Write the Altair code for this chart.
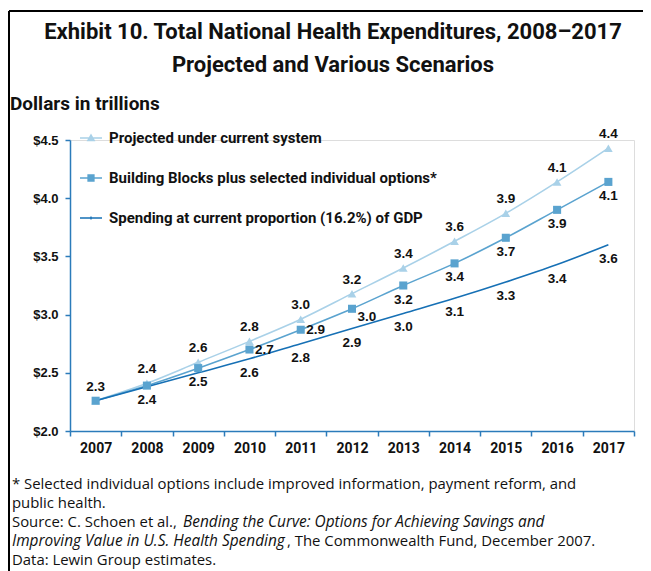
import altair as alt
import pandas as pd

YEARS = ["2007", "2008", "2009", "2010", "2011", "2012", "2013", "2014", "2015", "2016", "2017"]
SERIES = [
    "Projected under current system",
    "Building Blocks plus selected individual options*",
    "Spending at current proportion (16.2%) of GDP",
]
COLORS = ["#a9d1e8", "#5aa3cf", "#1670b5"]

PROJECTED = [2.26, 2.41, 2.59, 2.77, 2.96, 3.18, 3.40, 3.63, 3.87, 4.14, 4.43]
BUILDING = [2.26, 2.39, 2.54, 2.70, 2.87, 3.05, 3.25, 3.44, 3.66, 3.90, 4.14]
GDP = [2.26, 2.38, 2.50, 2.62, 2.75, 2.88, 3.01, 3.14, 3.28, 3.43, 3.60]

PROJ_LABELS = ["2.3", "2.4", "2.6", "2.8", "3.0", "3.2", "3.4", "3.6", "3.9", "4.1", "4.4"]
PROJ_POS = ["above"] * 11
BB_LABELS = ["", "2.4", "2.5", "2.7", "2.9", "3.0", "3.2", "3.4", "3.7", "3.9", "4.1"]
BB_POS = ["below", "below", "below", "right", "right", "belowright", "below", "below", "below", "below", "below"]
GDP_LABELS = ["", "", "", "2.6", "2.8", "2.9", "3.0", "3.1", "3.3", "3.4", "3.6"]
GDP_POS = ["below"] * 11

TITLE_LINES = ["Exhibit 10. Total National Health Expenditures, 2008\u20132017",
               "Projected and Various Scenarios"]
Y_TITLE = "Dollars in trillions"
NOTE_1 = "* Selected individual options include improved information, payment reform, and"
NOTE_2 = "public health."
NOTE_3A = "Source: C. Schoen et al., "
NOTE_3B = "Bending the Curve: Options for Achieving Savings and"
NOTE_4A = "Improving Value in U.S. Health Spending"
NOTE_4B = ", The Commonwealth Fund, December 2007."
NOTE_5 = "Data: Lewin Group estimates."

COND = "Roboto, Liberation Sans, sans-serif"
SANS = "Liberation Sans, Arial, sans-serif"
NOTE_FONT = "Open Sans, Liberation Sans, sans-serif"
AXIS_BLUE = "#2b7bba"

rows = []
for s, vals, labs, poss in [
    (SERIES[0], PROJECTED, PROJ_LABELS, PROJ_POS),
    (SERIES[1], BUILDING, BB_LABELS, BB_POS),
    (SERIES[2], GDP, GDP_LABELS, GDP_POS),
]:
    for y, v, l, p in zip(YEARS, vals, labs, poss):
        rows.append({"year": y, "series": s, "value": v, "label": l, "pos": p})
df = pd.DataFrame(rows)

x_enc = alt.X("year:O", title=None,
              scale=alt.Scale(type="band", paddingInner=0, paddingOuter=0),
              axis=alt.Axis(tickBand="extent", labelAngle=0, domainColor=AXIS_BLUE,
                            tickColor=AXIS_BLUE, tickSize=5, domainWidth=1.5, tickWidth=1.5,
                            labelFont=COND, labelFontSize=14, labelFontWeight="bold",
                            labelColor="#111", labelPadding=5))
y_enc = alt.Y("value:Q", title=None,
              scale=alt.Scale(domain=[2.0, 4.5], nice=False, zero=False),
              axis=alt.Axis(values=[2.0, 2.5, 3.0, 3.5, 4.0, 4.5], format="$.1f", grid=False,
                            domainColor=AXIS_BLUE, tickColor=AXIS_BLUE, tickSize=5,
                            domainWidth=1.5, tickWidth=1.5,
                            labelFont=SANS, labelFontSize=13, labelFontWeight="bold",
                            labelColor="#111", labelPadding=7))
color_scale = alt.Scale(domain=SERIES, range=COLORS)
color_enc = alt.Color("series:N", scale=color_scale, legend=None)

LEG = alt.Legend(title=None, orient="none", legendX=10, legendY=-13,
                 symbolSize=484, padding=0, rowPadding=21, labelOffset=7,
                 labelFont=COND, labelFontSize=15, labelFontWeight="bold",
                 labelColor="#111", labelLimit=600, symbolOpacity=1, symbolStrokeWidth=0)

base = alt.Chart(df)

BAR = "M-1,-0.07L1,-0.07L1,0.07L-1,0.07Z"
PATHS = [
    BAR + " M-0.4,0.3L0,-0.4L0.4,0.3Z",
    BAR + " M-0.33,-0.33L0.33,-0.33L0.33,0.33L-0.33,0.33Z",
    BAR + " M-0.06,-0.13L0.06,-0.13L0.06,0.13L-0.06,0.13Z",
]
# invisible layer that only carries the legend (placed first so its legend settings win)
legend_layer = base.mark_point(filled=True, size=0, opacity=0).encode(
    x=x_enc, y=y_enc,
    color=alt.Color("series:N", scale=color_scale, legend=LEG),
    shape=alt.Shape("series:N", scale=alt.Scale(domain=SERIES, range=PATHS), legend=LEG))

lines = base.mark_line(interpolate="monotone", strokeWidth=1.6).encode(
    x=x_enc, y=y_enc, color=color_enc, detail="series:N")

tri = base.transform_filter(alt.datum.series == SERIES[0]).mark_point(
    shape="triangle-up", filled=True, size=75, opacity=1).encode(x=x_enc, y=y_enc, color=color_enc)
sq = base.transform_filter(alt.datum.series == SERIES[1]).mark_point(
    shape="square", filled=True, size=65, opacity=1).encode(x=x_enc, y=y_enc, color=color_enc)

OFFS = {"above": (0, -14), "below": (0, 14), "right": (15, 0), "belowright": (15, 8)}
label_layers = []
for p, (dx, dy) in OFFS.items():
    label_layers.append(
        base.transform_filter((alt.datum.pos == p) & (alt.datum.label != "")).mark_text(
            font=SANS, fontSize=13.5, fontWeight="bold", color="#111", dx=dx, dy=dy,
            baseline="middle", align="center").encode(x=x_enc, y=y_enc, text="label:N"))

one = alt.Chart(pd.DataFrame({"k": [0]}))

def txt(t, x, y, size, font, weight="normal", style="normal", align="left"):
    return one.mark_text(text=t, font=font, fontSize=size, fontWeight=weight, fontStyle=style,
                         align=align, baseline="alphabetic", color="#111").encode(
        x=alt.value(x), y=alt.value(y))

annotations = [
    txt(TITLE_LINES[0], 263, -101, 22, COND, "bold", align="center"),
    txt(TITLE_LINES[1], 263, -68, 22, COND, "bold", align="center"),
    txt(Y_TITLE, -60, -30, 19, COND, "bold"),
    txt(NOTE_1, -58, 349, 14.9, NOTE_FONT),
    txt(NOTE_2, -58, 368, 14.9, NOTE_FONT),
    txt(NOTE_3A, -58, 387, 14.9, NOTE_FONT),
    txt(NOTE_3B, 113, 387, 15.4, NOTE_FONT, style="italic"),
    txt(NOTE_4A, -58, 406, 15.4, NOTE_FONT, style="italic"),
    txt(NOTE_4B, 217, 406, 14.9, NOTE_FONT),
    txt(NOTE_5, -58, 425, 14.9, NOTE_FONT),
]

frame = [
    one.mark_rule(color="black", strokeWidth=2).encode(
        x=alt.value(-61), x2=alt.value(600), y=alt.value(-129)),
    one.mark_rule(color="black", strokeWidth=2).encode(
        x=alt.value(-61), y=alt.value(-129), y2=alt.value(440)),
]

chart = alt.layer(legend_layer, lines, tri, sq, *label_layers, *annotations, *frame).properties(
    width=564, height=291,
    autosize=alt.AutoSizeParams(type="none"),
    padding={"left": 62, "top": 132, "right": 9, "bottom": 140},
).configure_view(stroke=None).configure(background="white")

chart.save("out.html", embed_options={"renderer": "svg", "actions": False})
